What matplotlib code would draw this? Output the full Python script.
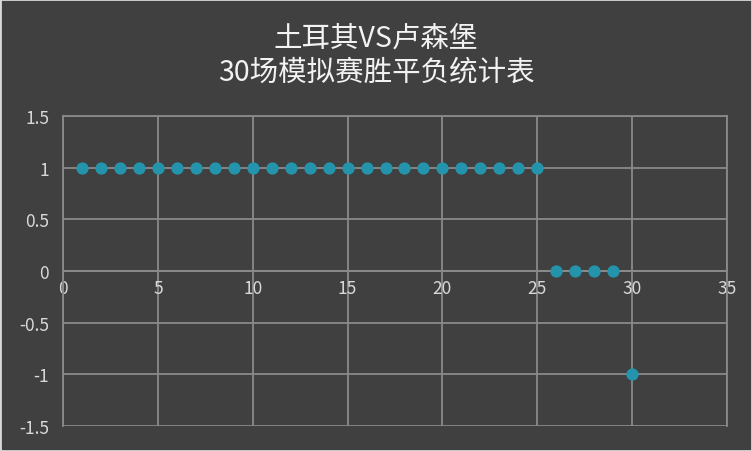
import numpy as np
import matplotlib.pyplot as plt
from matplotlib.patches import Rectangle

plt.rcParams['font.family'] = ['Noto Sans CJK SC', 'DejaVu Sans']

# match index and result (1 = win, 0 = draw, -1 = loss)
matches = list(range(1, 31))
results = [1] * 25 + [0] * 4 + [-1]
x_ticks = [0, 5, 10, 15, 20, 25, 30, 35]
y_ticks = [-1.5, -1, -0.5, 0, 0.5, 1, 1.5]
title = "土耳其VS卢森堡\n30场模拟赛胜平负统计表"

bg = '#404040'
grid_c = '#8a8a8a'
dot_c = '#2394ac'

fig = plt.figure(figsize=(7.52, 4.52), dpi=100, facecolor=bg)
ax = fig.add_axes([63/752, 1 - 427/452, (727-63)/752, (427-117)/452])
ax.set_facecolor(bg)

ax.scatter(matches, results, s=78, color=dot_c, zorder=3, linewidths=0)

ax.set_xlim(0, 35)
ax.set_ylim(-1.5, 1.5)
ax.set_xticks(x_ticks)
ax.set_yticks(y_ticks)
ax.set_yticklabels([f"{v:g}" for v in y_ticks])
ax.grid(True, color=grid_c, linewidth=1.3)
ax.set_axisbelow(True)

for s in ax.spines.values():
    s.set_color(grid_c)
    s.set_linewidth(1.3)
ax.spines['bottom'].set_position(('data', 0))

ax.tick_params(axis='both', length=0, colors='#d9d9d9', labelsize=12.5)
ax.tick_params(axis='x', pad=6)
ax.tick_params(axis='y', pad=10)

fig.suptitle(title, y=1 - 24/452, va='top', color='#f2f2f2', fontsize=20.5, linespacing=1.15)

fig.patches.append(Rectangle((0, 0), 1, 1, transform=fig.transFigure, fill=False,
                             edgecolor='#d9d9d9', linewidth=2))

fig.savefig('out.png', dpi=100, facecolor=bg)
